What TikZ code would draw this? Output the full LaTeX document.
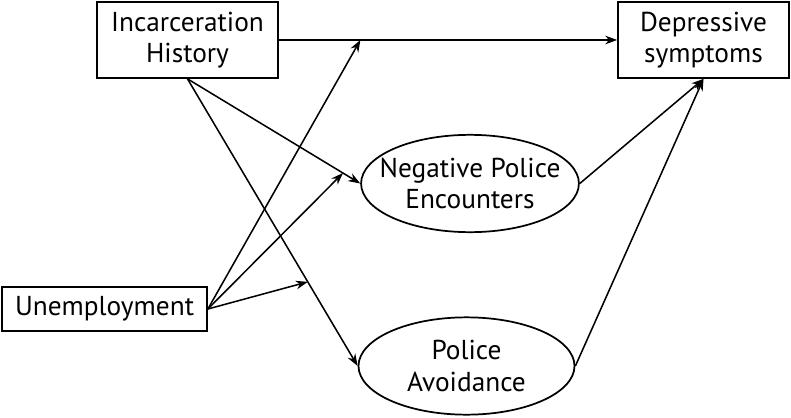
\documentclass[tikz,border=0pt]{standalone}
\usepackage{fontspec}
\setmainfont{PT Sans}
\usetikzlibrary{arrows.meta,shapes.geometric,calc}

\tikzset{
  varbox/.style={draw, line width=1.3pt, inner sep=0pt, align=center,
    font=\fontsize{20.5}{23.5}\selectfont},
  varoval/.style={draw, ellipse, line width=1.3pt, inner xsep=-10pt, inner ysep=0pt, align=center,
    minimum width=162pt, minimum height=73pt, font=\fontsize{20.5}{23.5}\selectfont},
  patharrow/.style={line width=1.15pt, -{Stealth[length=9pt,width=6.5pt]}}
}

\begin{document}
\begin{tikzpicture}[x=0.75pt,y=0.75pt,yscale=-1]
\useasboundingbox (0,0) rectangle (791,417);

% Variables
\node [varbox, minimum width=135.75pt, minimum height=57pt] (inc) at (187.5,40) {Incarceration\\History};
\node [varbox, minimum width=128.25pt, minimum height=57pt] (dep) at (703.5,40) {Depressive\\symptoms};
\node [varbox, minimum width=153.75pt, minimum height=33pt] (unemp) at (104.5,309) {Unemployment};
\node [varoval] (neg) at (470,183.5) {Negative Police\\Encounters};
\node [varoval] (avoid) at (466.5,366) {Police\\Avoidance};

% Points where the moderator arrows end
\coordinate (m1) at ($(inc.east)!0.241!(dep.west)$);
\coordinate (m2) at ($(inc.south)!0.707!(avoid.west)$);
\coordinate (m3) at (343,173);

% Paths
\draw [patharrow] (inc.east) -- (dep.west);
\draw [patharrow] (inc.south) -- (neg.west);
\draw [patharrow] (inc.south) -- (avoid.west);
\draw [patharrow] (neg.east) -- (dep.south);
\draw [patharrow] (avoid.east) -- (dep.south);

% Moderation by unemployment
\draw [patharrow] (unemp.east) -- (m1);
\draw [patharrow] (unemp.east) -- (m3);
\draw [patharrow] (unemp.east) -- (m2);
\end{tikzpicture}
\end{document}
